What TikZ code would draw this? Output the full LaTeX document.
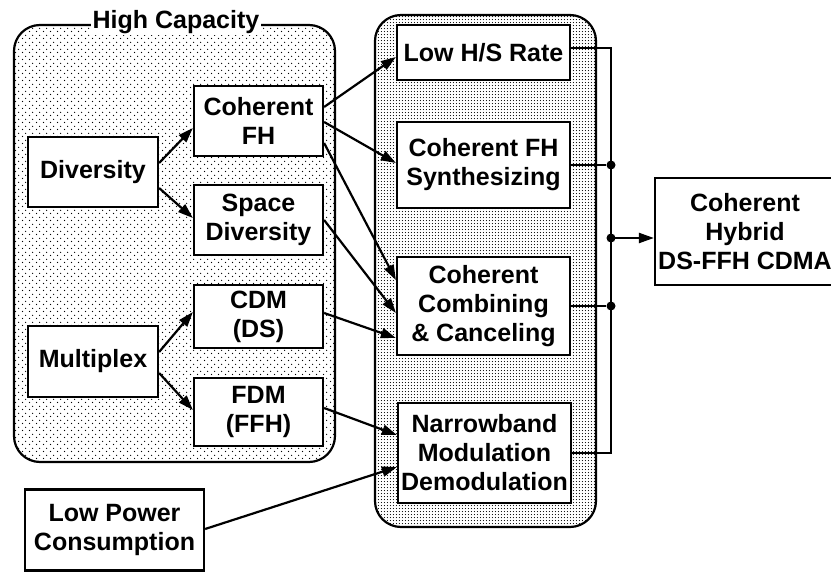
\documentclass[tikz,border=0pt]{standalone}
\usepackage{fontspec}
\setmainfont{Liberation Sans}
\usetikzlibrary{arrows.meta,patterns}
\pgfdeclarepatternformonly{sparsedots}{\pgfpointorigin}{\pgfpoint{7pt}{7pt}}{\pgfpoint{7pt}{7pt}}{%
  \pgfpathcircle{\pgfpoint{1.75pt}{1.75pt}}{0.8pt}%
  \pgfpathcircle{\pgfpoint{5.25pt}{5.25pt}}{0.8pt}%
  \pgfusepath{fill}}
\pgfdeclarepatternformonly{densedots}{\pgfpointorigin}{\pgfpoint{3.4pt}{3.4pt}}{\pgfpoint{3.4pt}{3.4pt}}{%
  \pgfpathcircle{\pgfpoint{1.7pt}{1.7pt}}{0.7pt}%
  \pgfusepath{fill}}
\begin{document}
\begin{tikzpicture}[x=1pt,y=-1pt,
  txt/.style={font=\bfseries\fontsize{25}{29}\selectfont},
  box/.style={draw, line width=2.2pt, fill=white, inner sep=0pt, align=center, txt},
  container/.style={draw, line width=2.2pt, rounded corners=26pt, inner sep=0pt},
  conn/.style={line width=2.2pt, -{Triangle[length=15pt,width=10pt]}},
  wire/.style={line width=2.2pt},
  junction/.style={circle, fill, inner sep=0pt, minimum size=9pt}]
\useasboundingbox (0,0) rectangle (831,572);

% containers
\node[container, pattern=sparsedots, minimum width=321pt, minimum height=437pt] (hc) at (174.5,243.5) {};
\node[container, pattern=densedots, minimum width=221pt, minimum height=512pt] (rc) at (485.5,271) {};
\node[txt, fill=white, inner sep=1.5pt] (hctitle) at (176,22) {High Capacity};

% left boxes
\node[box, minimum width=130pt, minimum height=70pt] (div) at (93,172) {Diversity};
\node[box, minimum width=130pt, minimum height=71pt] (mux) at (93,361.5) {Multiplex};
\node[box, minimum width=129pt, minimum height=70pt] (cfh) at (258.5,121) {Coherent\\FH};
\node[box, minimum width=129pt, minimum height=70pt] (sdiv) at (258.5,220) {Space\\Diversity};
\node[box, minimum width=129pt, minimum height=63pt] (cdm) at (258.5,316.5) {CDM\\(DS)};
\node[box, minimum width=129pt, minimum height=68pt] (fdm) at (258.5,412) {FDM\\(FFH)};
\node[box, minimum width=179pt, minimum height=81pt] (lp) at (114.5,530) {\raisebox{-4pt}{\begin{tabular}{@{}c@{}}Low Power\\[-0.5pt]Consumption\end{tabular}}};

% right boxes
\node[box, minimum width=173pt, minimum height=55pt] (lhs) at (483.5,52.5) {Low H/S Rate};
\node[box, minimum width=173pt, minimum height=86pt] (syn) at (483.5,165) {Coherent FH\\Synthesizing};
\node[box, minimum width=173pt, minimum height=98pt] (comb) at (483.5,306) {Coherent\\Combining\\\& Canceling};
\node[box, minimum width=173pt, minimum height=100pt] (nb) at (484.5,453) {Narrowband\\Modulation\\Demodulation};

% output
\node[box, minimum width=180pt, minimum height=107pt] (out) at (745,231.5) {Coherent\\Hybrid\\DS-FFH CDMA};

% arrows
\draw[conn] ([yshift=9pt]div.east) -- ([yshift=-7pt]cfh.west);
\draw[conn] ([yshift=-16pt]div.east) -- ([yshift=2pt]sdiv.west);
\draw[conn] ([yshift=9.5pt]mux.east) -- ([yshift=4.5pt]cdm.west);
\draw[conn] ([yshift=-11.5pt]mux.east) -- ([yshift=2pt]fdm.west);
\draw[conn] ([yshift=14pt]cfh.east) -- ([yshift=-4.5pt]lhs.west);
\draw[conn] ([yshift=-1pt]cfh.east) -- ([yshift=2pt]syn.west);
\draw[conn] ([yshift=-22pt]cfh.east) -- ([yshift=26pt]comb.west);
\draw[conn] (sdiv.east) -- ([yshift=-7pt]comb.west);
\draw[conn] ([yshift=3.5pt]cdm.east) -- ([yshift=-32pt]comb.west);
\draw[conn] ([yshift=4pt]fdm.east) -- ([yshift=18pt]nb.west);
\draw[conn] ([yshift=1pt]lp.east) -- ([yshift=-14pt]nb.west);

% bus
\coordinate (btop) at (611,48);
\coordinate (bbot) at (611,453);
\node[junction] (j1) at (611,165) {};
\node[junction] (j2) at (611,238) {};
\node[junction] (j3) at (611,306) {};
\draw[wire] ([yshift=4.5pt]lhs.east) -- (btop) -- (bbot) -- (nb.east);
\draw[wire] (syn.east) -- (j1);
\draw[wire] (comb.east) -- (j3);
\draw[conn] (j2.center) -- (j2 -| out.west);
\end{tikzpicture}
\end{document}
